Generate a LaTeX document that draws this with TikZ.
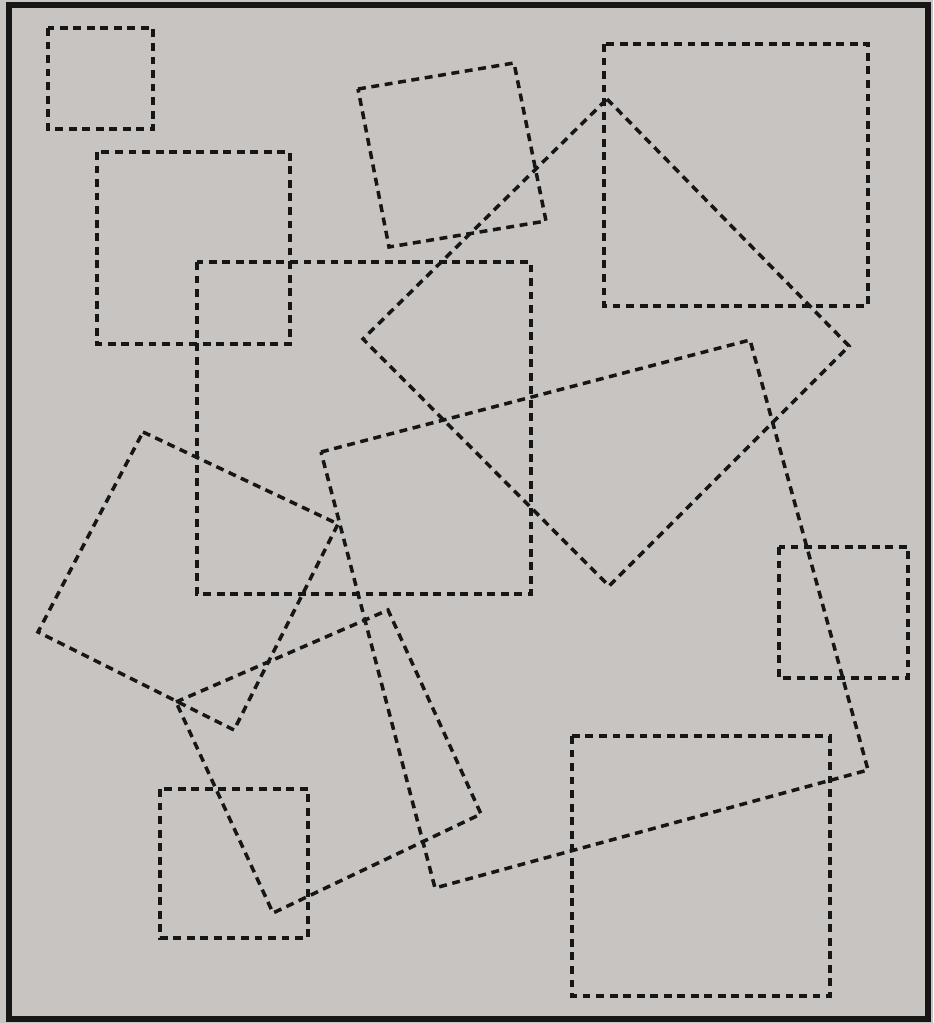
\documentclass[tikz,border=0pt]{standalone}
\definecolor{paper}{RGB}{200,196,193}
\definecolor{ink}{RGB}{22,22,22}
\begin{document}
\begin{tikzpicture}[
    x=0.02cm, y=-0.02cm,
    frame/.style={draw=ink, line width=3pt},
    box/.style={draw=ink, line width=2pt, dash pattern=on 4.5pt off 3.2pt}
]
    % Sheet
    \fill[paper] (0,0) rectangle (933,1023);
    \useasboundingbox (0,0) rectangle (933,1023);
    \draw[frame] (9,5) rectangle (928,1019);

    % Upright squares
    \draw[box] (48,28) rectangle (153,129);
    \draw[box] (97,152) rectangle (290,344);
    \draw[box] (604,44) rectangle (868,306);
    \draw[box] (197,262) rectangle (531,594);
    \draw[box] (779,547) rectangle (908,678);
    \draw[box] (160,789) rectangle (308,938);
    \draw[box] (572,736) rectangle (830,996);

    % Turned squares
    \draw[box] (358,89) -- (514,63) -- (546,221) -- (389,247) -- cycle;
    \draw[box] (607,99) -- (849,346) -- (609,586) -- (363,339) -- cycle;
    \draw[box] (321,452) -- (750,340) -- (868,770) -- (435,888) -- cycle;
    \draw[box] (143,432) -- (338,524) -- (234,730) -- (38,632) -- cycle;
    \draw[box] (176,702) -- (388,610) -- (481,814) -- (273,913) -- cycle;
\end{tikzpicture}
\end{document}
